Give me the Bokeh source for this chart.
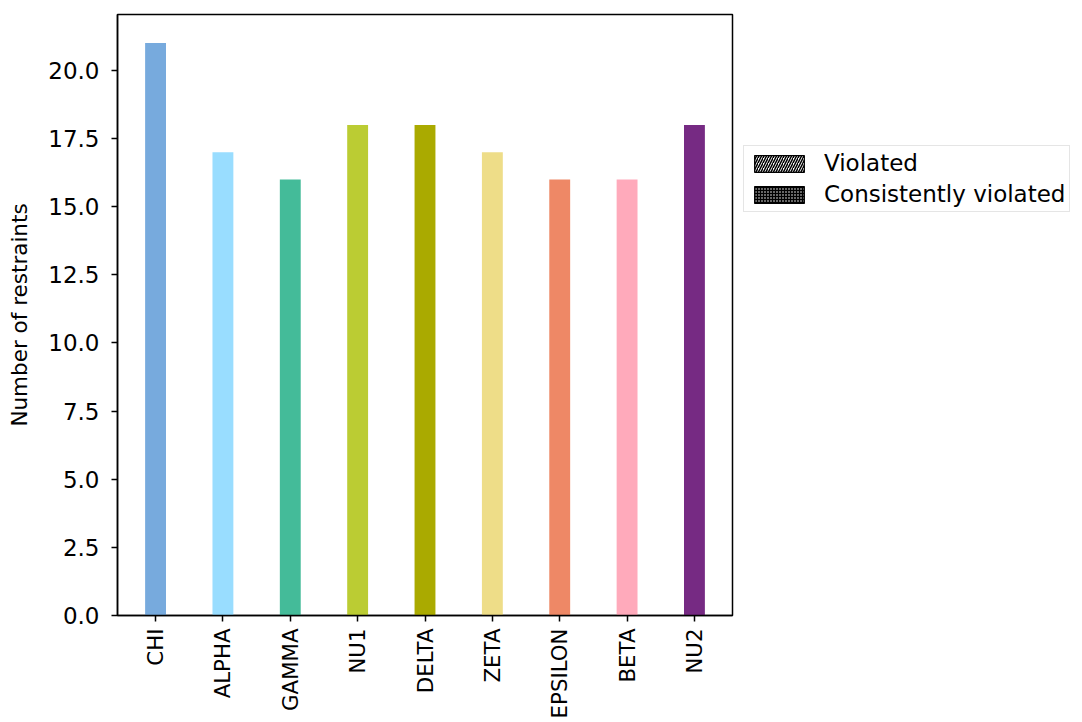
from bokeh.plotting import figure
from bokeh.layouts import row
from bokeh.models import (ColumnDataSource, FactorRange, Range1d, FixedTicker,
                          NumeralTickFormatter, Legend, LegendItem)
from bokeh.embed import file_html
from bokeh.resources import INLINE
import math

# ---- data ----
categories = ["CHI", "ALPHA", "GAMMA", "NU1", "DELTA", "ZETA", "EPSILON", "BETA", "NU2"]
restraints = [21, 17, 16, 18, 18, 17, 16, 16, 18]
colors = ["#77AADD", "#99DDFF", "#44BB99", "#BBCC33", "#AAAA00",
          "#EEDD88", "#EE8866", "#FFAABB", "#762A83"]
y_ticks = [0, 2.5, 5, 7.5, 10, 12.5, 15, 17.5, 20]
legend_labels = ["Violated", "Consistently violated"]

src = ColumnDataSource(dict(cat=categories, val=restraints, color=colors))

p = figure(x_range=FactorRange(factors=categories, range_padding=0.065,
                               range_padding_units="absolute"),
           y_range=Range1d(0, 22.05),
           width=740, height=722,
           min_border_left=117, min_border_right=8,
           min_border_top=14, min_border_bottom=107,
           output_backend="svg", toolbar_location=None)

p.vbar(x="cat", top="val", width=0.31, color="color", line_color=None, source=src)

p.xgrid.visible = False
p.ygrid.visible = False
p.outline_line_color = "black"
p.outline_line_width = 1.5

for ax in (p.xaxis[0], p.yaxis[0]):
    ax.axis_line_color = "black"
    ax.axis_line_width = 1.5
    ax.major_tick_line_color = "black"
    ax.major_tick_line_width = 1.5
    ax.major_tick_out = 6
    ax.major_tick_in = 0
    ax.minor_tick_line_color = None
    ax.major_label_text_color = "black"
    ax.major_label_text_font = "DejaVu Sans"

p.yaxis.ticker = FixedTicker(ticks=y_ticks)
p.yaxis.formatter = NumeralTickFormatter(format="0.0")
p.yaxis.major_label_text_font_size = "23px"
p.yaxis.major_label_standoff = 12
p.yaxis.axis_label = "Number of restraints"
p.yaxis.axis_label_text_font = "DejaVu Sans"
p.yaxis.axis_label_text_font_size = "21.5px"
p.yaxis.axis_label_text_font_style = "normal"
p.yaxis.axis_label_text_color = "black"
p.yaxis.axis_label_standoff = 13

p.xaxis.major_label_orientation = math.pi / 2
p.xaxis.major_label_text_font_size = "21.3px"
p.xaxis.major_label_standoff = 7
p.xaxis.group_text_font_size = "0px"

# ---- legend in a side canvas ----
q = figure(width=342, height=722, x_range=Range1d(0, 1), y_range=Range1d(0, 1),
           min_border_left=0, min_border_right=0, min_border_top=0,
           min_border_bottom=0, output_backend="svg", toolbar_location=None)
q.axis.visible = False
q.grid.visible = False
q.outline_line_color = None

# tiny swatch-source bars hidden behind the opaque legend box
r_viol = q.vbar(x=[0.5], bottom=[0.70], top=[0.73], width=0.04, fill_color="white",
                line_color="black", line_width=1.3, hatch_pattern="/",
                hatch_color="black", hatch_scale=5, hatch_weight=1.5)
r_cons = q.vbar(x=[0.5], bottom=[0.70], top=[0.73], width=0.04, fill_color="black",
                line_color="black", line_width=1.3, hatch_pattern=".",
                hatch_color="white", hatch_scale=3, hatch_weight=1.0)

legend = Legend(items=[LegendItem(label=legend_labels[0], renderers=[r_viol]),
                       LegendItem(label=legend_labels[1], renderers=[r_cons])],
                location=(3, 403), margin=0, padding=4, spacing=5,
                glyph_width=62, glyph_height=21, label_standoff=14,
                label_text_font="DejaVu Sans", label_text_font_size="23px",
                label_text_color="black",
                border_line_color="#cccccc", border_line_width=1.5,
                background_fill_color="white", background_fill_alpha=1)
q.add_layout(legend, "center")

open("out.html", "w").write(file_html(row(p, q, spacing=0), INLINE))
